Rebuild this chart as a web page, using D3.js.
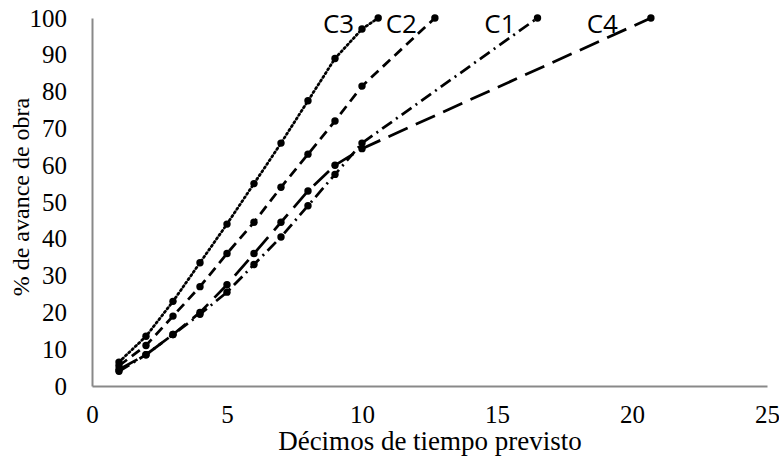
<!DOCTYPE html>
<html><head><meta charset="utf-8">
<script src="https://cdn.jsdelivr.net/npm/d3@7"></script>
<style>body{margin:0;background:#fff}
.serif{font-family:"Liberation Serif","Times New Roman",serif;fill:#000}
.lab{font-family:"Open Sans",sans-serif;font-size:26px;fill:#000}
</style>
</head><body><svg id="c" width="779" height="459"></svg>
<script>
const seriesNames = ["C1","C2","C3","C4"];
const xC1 = [1,2,3,4,5,6,7,8,9,10,16.5];
const yC1 = [4,8.5,14,19.5,25.5,33,40.5,49,57.5,66,100];
const xC2 = [1,2,3,4,5,6,7,8,9,10,12.7];
const yC2 = [5.5,11,19,27,36,44.5,54,63,72,81.5,100];
const xC3 = [1,2,3,4,5,6,7,8,9,10,10.6];
const yC3 = [6.5,13.5,23,33.5,44,55,66,77.5,89,97,100];
const xC4 = [1,2,3,4,5,6,7,8,9,10,20.7];
const yC4 = [4.5,8.5,14,20,27.5,36,44.5,53,60,64.5,100];
const xTicks = [0,5,10,15,20,25];
const yTicks = [0,10,20,30,40,50,60,70,80,90,100];
const xTitle = "Décimos de tiempo previsto";
const yTitle = "% de avance de obra";

const svg = d3.select("#c");
const x = d3.scaleLinear().domain([0,25]).range([92,767]);
const y = d3.scaleLinear().domain([0,100]).range([386,18]);

const series = [
  {name:"C1", xs:xC1, ys:yC1, dash:"12,5,2,5", dx:-22},
  {name:"C2", xs:xC2, ys:yC2, dash:"10,6", dx:-18},
  {name:"C3", xs:xC3, ys:yC3, dash:"1.5,3", dx:-24},
  {name:"C4", xs:xC4, ys:yC4, dash:"21,9", dx:-33}
];

// axes
const xAxis = d3.axisBottom(x).tickValues(xTicks).tickSize(0).tickPadding(19);
const gx = svg.append("g").attr("transform","translate(0,386)").call(xAxis)
  .attr("font-family",null).attr("font-size",null);
gx.select(".domain").attr("stroke","#898989").attr("stroke-width",2);
gx.selectAll("text").attr("class","serif").attr("fill",null).style("font-size","25px");

const yAxis = d3.axisLeft(y).tickValues(yTicks).tickSize(0).tickPadding(25);
const gy = svg.append("g").attr("transform","translate(92,0)").call(yAxis)
  .attr("font-family",null).attr("font-size",null);
gy.select(".domain").attr("stroke","#898989").attr("stroke-width",2);
gy.selectAll("text").attr("class","serif").attr("fill",null).style("font-size","25px");

svg.append("text").attr("class","serif").style("font-size","27px").attr("x",430).attr("y",450).attr("text-anchor","middle")
  .text(xTitle);
svg.append("text").attr("class","serif").style("font-size","24px").attr("transform","translate(29,197) rotate(-90)").attr("text-anchor","middle")
  .text(yTitle);

const line = d3.line().x(d=>x(d[0])).y(d=>y(d[1]));
series.forEach(s=>{
  const pts = s.xs.map((v,i)=>[v,s.ys[i]]);
  svg.append("path").attr("d",line(pts)).attr("fill","none").attr("stroke","#000")
    .attr("stroke-width",2.75).attr("stroke-dasharray",s.dash)
    .attr("stroke-linecap", s.name==="C3" ? "round":"butt");
  svg.append("g").selectAll("circle").data(pts).join("circle")
    .attr("cx",d=>x(d[0])).attr("cy",d=>y(d[1])).attr("r",3.7).attr("fill","#000");
  const last = pts[pts.length-1];
  svg.append("text").attr("class","lab").attr("x",x(last[0])+s.dx).attr("y",y(last[1])+15)
    .attr("text-anchor","end").text(s.name);
});
</script></body></html>
